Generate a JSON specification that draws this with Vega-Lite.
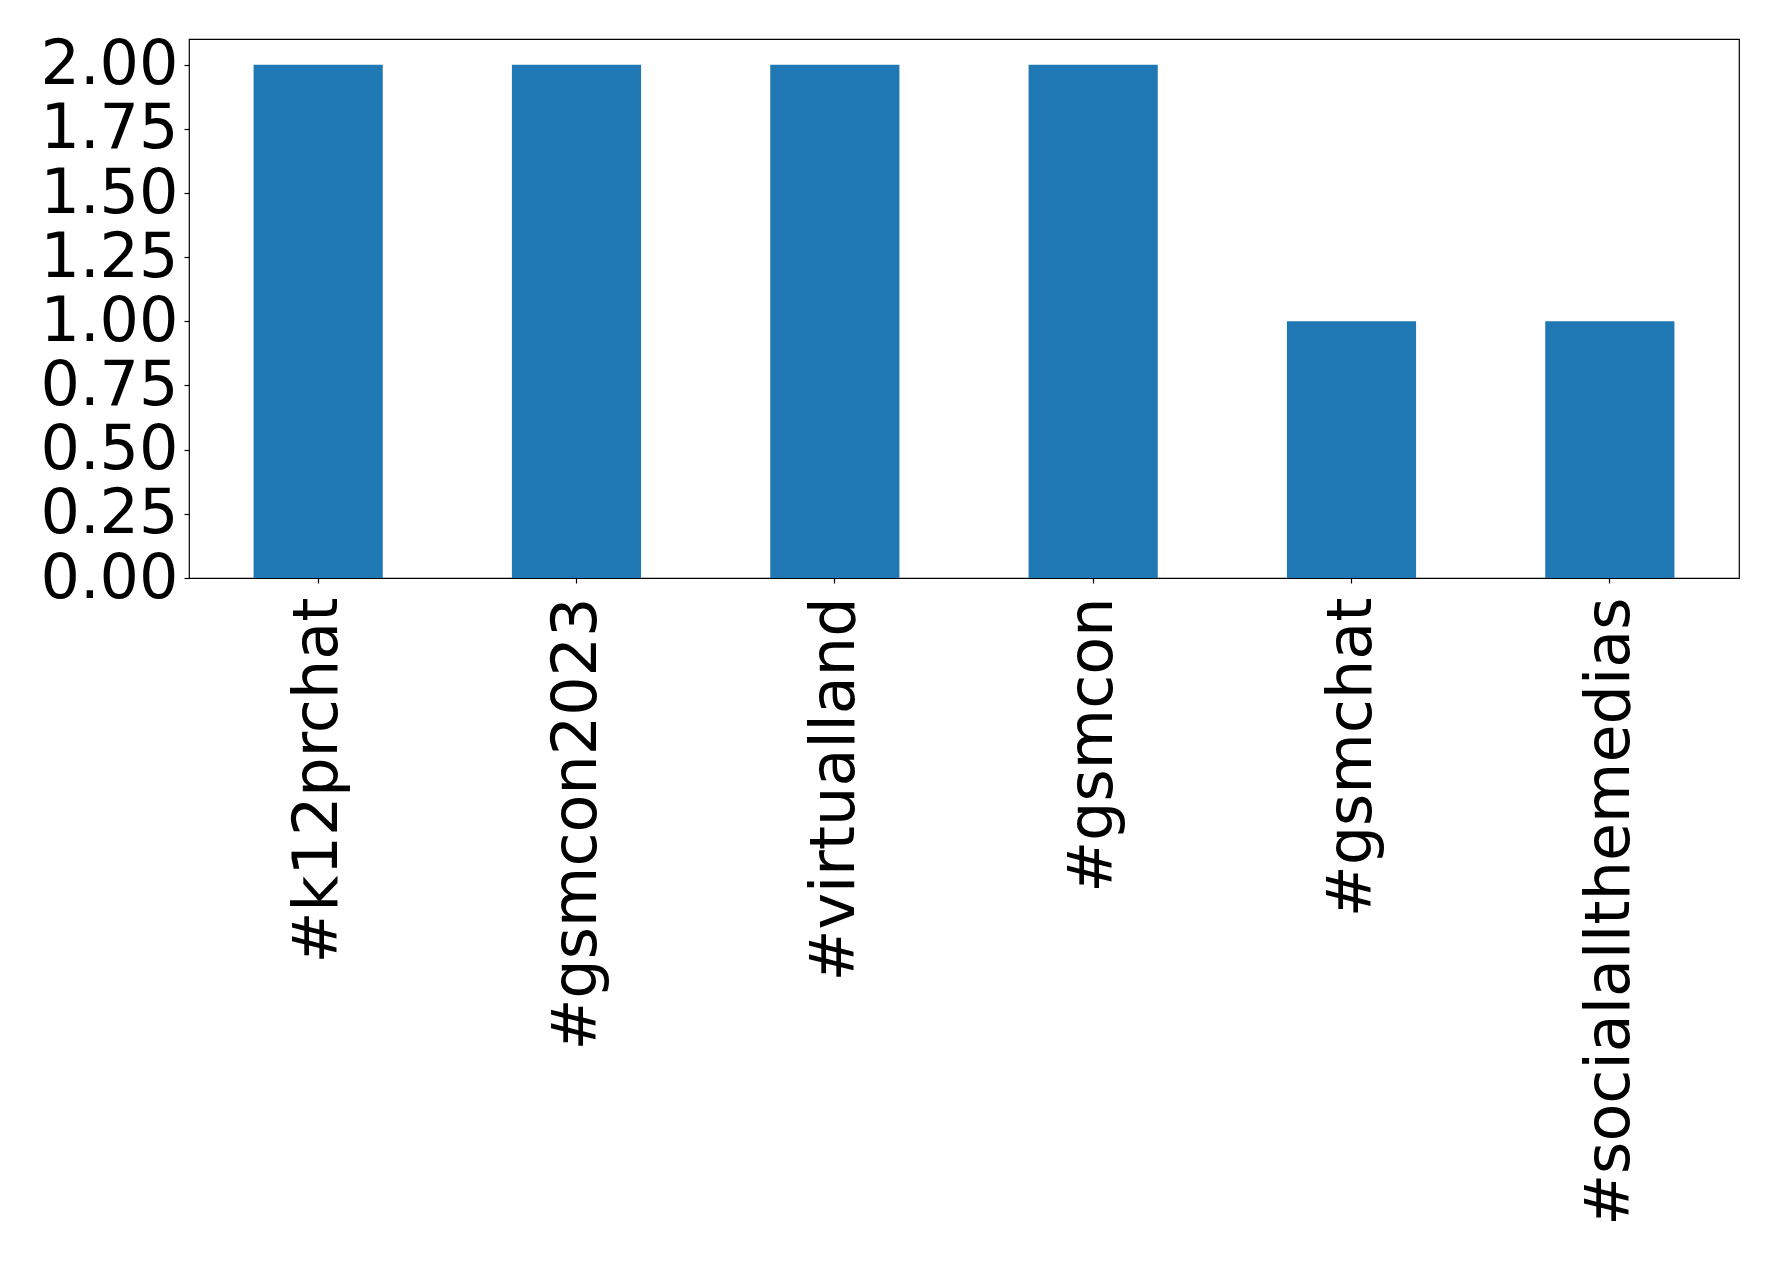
{
  "$schema": "https://vega.github.io/schema/vega-lite/v6.json",
  "width": 1550,
  "height": 539,
  "autosize": {"type": "none"},
  "padding": {"left": 189, "top": 39, "right": 39, "bottom": 683},
  "background": "white",
  "config": {
    "view": {"stroke": "black", "strokeWidth": 1.2},
    "axis": {
      "labelFont": "DejaVu Sans",
      "labelFontSize": 62,
      "labelColor": "black",
      "tickColor": "black",
      "tickSize": 5,
      "tickWidth": 1.2,
      "domain": false,
      "grid": false,
      "title": null
    }
  },
  "data": {
    "values": [
      {"tag": "#k12prchat", "count": 2},
      {"tag": "#gsmcon2023", "count": 2},
      {"tag": "#virtualland", "count": 2},
      {"tag": "#gsmcon", "count": 2},
      {"tag": "#gsmchat", "count": 1},
      {"tag": "#socialallthemedias", "count": 1}
    ]
  },
  "mark": {"type": "bar", "color": "#1f77b4"},
  "encoding": {
    "x": {
      "field": "tag",
      "type": "nominal",
      "sort": null,
      "scale": {"paddingInner": 0.5, "paddingOuter": 0.25},
      "axis": {"labelAngle": -90, "labelPadding": 14, "labelOverlap": false, "labelLimit": 0}
    },
    "y": {
      "field": "count",
      "type": "quantitative",
      "scale": {"domain": [0, 2.1], "nice": false, "zero": true},
      "axis": {"values": [0, 0.25, 0.5, 0.75, 1, 1.25, 1.5, 1.75, 2], "format": ".2f", "labelPadding": 6}
    }
  }
}
